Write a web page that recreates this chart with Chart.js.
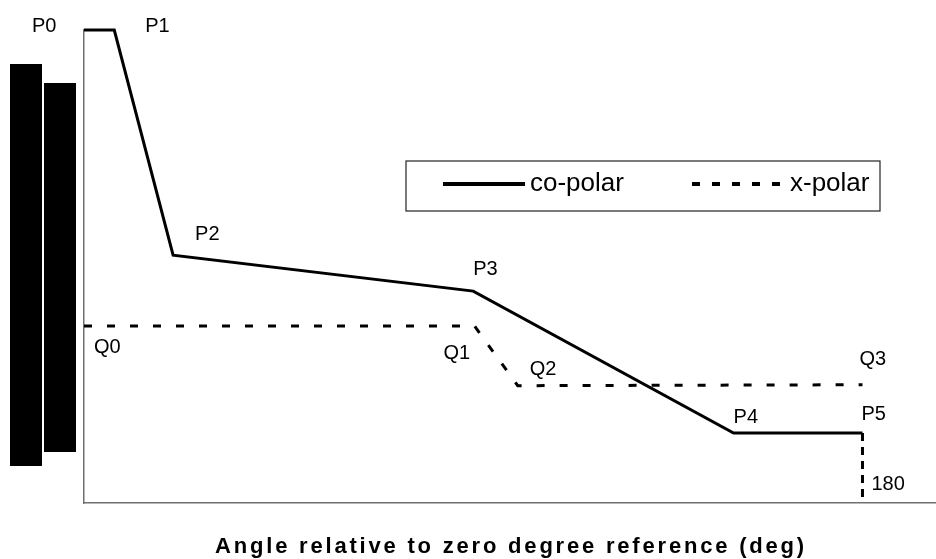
<!DOCTYPE html>
<html>
<head>
<meta charset="utf-8">
<script src="https://cdn.jsdelivr.net/npm/chart.js@4.4.0/dist/chart.umd.min.js"></script>
<style>
body { margin: 0; background: #fff; }
#wrap { position: relative; width: 936px; height: 559px; }
.mask { position: absolute; background: #000; }
</style>
</head>
<body>
<div id="wrap">
    <canvas id="myChart" width="936" height="559"></canvas>
    <div class="mask" style="left:10px;top:64px;width:32px;height:402px"></div>
    <div class="mask" style="left:44px;top:83px;width:32px;height:369px"></div>
</div>
<script>
// values (x in deg, y in dB, relative)
const coPolarX = [0, 7, 20.6, 90, 150.2, 180];
const coPolarY = [0, 0, -23.8, -27.6, -42.6, -42.6];
const coPolarNames = ["P0", "P1", "P2", "P3", "P4", "P5"];
const xPolarX = [0, 90.3, 100.3, 180];
const xPolarY = [-31.3, -31.3, -37.6, -37.5];
const xPolarNames = ["Q0", "Q1", "Q2", "Q3"];
const markerX = [180, 180];
const markerY = [-42.6, -49.5];
const markerName = "180";
const seriesNames = ["co-polar", "x-polar"];
const xTitle = "Angle relative to zero degree reference (deg)";
const xRange = [0, 197];
const yRange = [-50, 0];

// label placement relative to each point (px)
const labelOffsets = {
    P0: [-52, 2], P1: [31, 2], P2: [22, -15], P3: [0, -16], P4: [0, -10], P5: [-1, -13],
    Q0: [10, 27], Q1: [-31, 33], Q2: [12, -11], Q3: [-3, -20], "180": [9, -8]
};

const FONT = "'Liberation Sans', Arial, sans-serif";

function toPoints(xs, ys) {
    return xs.map((x, i) => ({ x, y: ys[i] }));
}

const annotations = {
    id: "annotations",
    afterDatasetsDraw(chart) {
        const ctx = chart.ctx;
        const xs = chart.scales.x;
        const ys = chart.scales.y;
        const area = chart.chartArea;

        ctx.save();
        ctx.fillStyle = "#000";
        ctx.font = "20px " + FONT;
        ctx.textBaseline = "alphabetic";
        ctx.textAlign = "left";

        const put = (name, x, y) => {
            const off = labelOffsets[name];
            ctx.fillText(name, xs.getPixelForValue(x) + off[0], ys.getPixelForValue(y) + off[1]);
        };
        coPolarNames.forEach((n, i) => put(n, coPolarX[i], coPolarY[i]));
        xPolarNames.forEach((n, i) => put(n, xPolarX[i], xPolarY[i]));
        put(markerName, markerX[1], markerY[1]);

        // legend box
        const lx = 406, ly = 161, lw = 474, lh = 50;
        ctx.strokeStyle = "#222";
        ctx.lineWidth = 1.2;
        ctx.strokeRect(lx, ly, lw, lh);
        const cy = ly + 23;
        const samples = [[443, 525, 530], [692, 786, 790]];
        chart.data.datasets.slice(0, 2).forEach((ds, i) => {
            const s = samples[i];
            ctx.beginPath();
            ctx.setLineDash(ds.borderDash ? [8, 12] : []);
            ctx.lineWidth = 4;
            ctx.strokeStyle = "#000";
            ctx.moveTo(s[0], cy);
            ctx.lineTo(s[1], cy);
            ctx.stroke();
            ctx.setLineDash([]);
            ctx.font = "26px " + FONT;
            ctx.fillText(seriesNames[i], s[2], cy + 7);
        });

        // x axis title
        ctx.font = "bold 22px " + FONT;
        ctx.letterSpacing = "2.8px";
        ctx.textAlign = "center";
        ctx.fillText(xTitle, (area.left + area.right) / 2 + 1, 553);
        ctx.restore();
    }
};

function createChart() {
    const myChart = document.getElementById("myChart").getContext("2d");
    return new Chart(myChart, {
        type: "scatter",
        data: {
            datasets: [{
                label: seriesNames[0],
                data: toPoints(coPolarX, coPolarY),
                showLine: true,
                borderColor: "#000",
                borderWidth: 3,
                pointRadius: 0,
                clip: false
            }, {
                label: seriesNames[1],
                data: toPoints(xPolarX, xPolarY),
                showLine: true,
                borderColor: "#000",
                borderWidth: 3,
                borderDash: [8, 15],
                pointRadius: 0,
                clip: false
            }, {
                label: markerName,
                data: toPoints(markerX, markerY),
                showLine: true,
                borderColor: "#000",
                borderWidth: 3,
                borderDash: [8, 6],
                pointRadius: 0,
                clip: false
            }]
        },
        options: {
            responsive: false,
            animation: false,
            layout: { padding: { left: 84, top: 30, right: 0, bottom: 56 } },
            scales: {
                x: {
                    type: "linear",
                    min: xRange[0],
                    max: xRange[1],
                    ticks: { display: false },
                    grid: { display: false, drawTicks: false },
                    border: { display: true, color: "#707070", width: 1.5 }
                },
                y: {
                    type: "linear",
                    min: yRange[0],
                    max: yRange[1],
                    ticks: { display: false },
                    grid: { display: false, drawTicks: false },
                    border: { display: true, color: "#707070", width: 1.5 }
                }
            },
            plugins: {
                legend: { display: false },
                tooltip: { enabled: false }
            }
        },
        plugins: [annotations]
    });
}

window.addEventListener("load", createChart);
</script>
</body>
</html>
